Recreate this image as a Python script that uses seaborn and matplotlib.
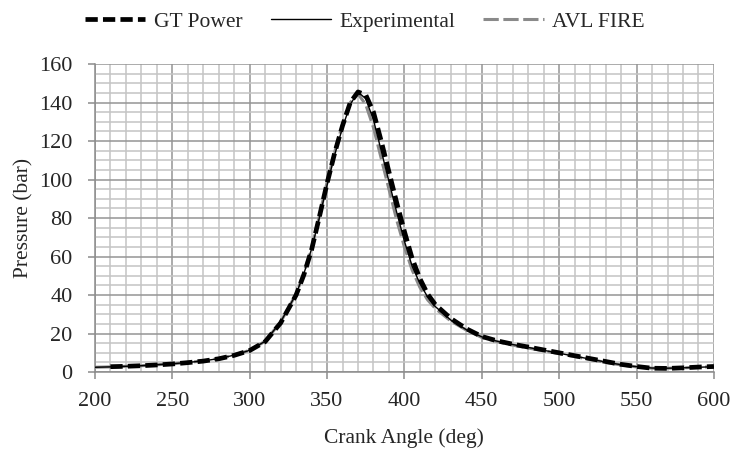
import numpy as np
import pandas as pd
import matplotlib
matplotlib.use('Agg')
import matplotlib.pyplot as plt
from matplotlib.ticker import MultipleLocator
import seaborn as sns

# crank angle (deg) and pressure (bar)
angle = [200, 210, 220, 230, 240, 250, 260, 270, 280, 290, 300, 310, 320, 330, 335,
         340, 345, 350, 355, 360, 365, 370, 375, 380, 385, 390, 395, 400, 405, 410,
         415, 420, 430, 440, 450, 460, 470, 480, 490, 500, 510, 520, 530, 540, 550,
         560, 570, 580, 590, 600]

p_exp = [2.5, 2.7, 3.0, 3.3, 3.8, 4.3, 5.0, 5.8, 7.0, 8.8, 11.3, 16.0, 26.0, 40.5, 51.0,
         64.0, 80.0, 97.0, 113.0, 127.0, 139.0, 145.5, 142.0, 131.0, 115.0, 99.0, 83.0, 68.0, 55.0, 46.0,
         39.0, 34.0, 27.0, 22.0, 18.3, 16.0, 14.3, 12.8, 11.3, 9.8, 8.2, 6.8, 5.2, 3.8, 2.8,
         2.1, 2.0, 2.2, 2.5, 2.8]

angle_gt = angle[1:]
p_gt = [2.8, 3.0, 3.3, 3.7, 4.2, 4.9, 5.7, 6.9, 8.7, 11.2, 15.8, 25.5, 40.0, 50.5,
        63.5, 80.5, 98.0, 114.0, 128.0, 140.0, 145.5, 144.0, 135.0, 120.0, 104.0, 88.0, 73.0, 59.0, 48.5,
        40.5, 35.0, 27.8, 22.5, 18.5, 16.2, 14.5, 13.0, 11.5, 10.0, 8.5, 7.0, 5.5, 4.0, 2.9,
        2.0, 1.9, 2.2, 2.6, 2.9]

p_avl = [2.5, 2.7, 3.0, 3.3, 3.8, 4.3, 5.0, 5.8, 7.0, 8.8, 11.3, 16.0, 26.0, 40.5, 51.5,
         64.5, 81.0, 98.5, 114.5, 128.5, 140.0, 144.5, 139.0, 127.0, 111.0, 95.0, 79.0, 65.0, 53.0, 44.0,
         37.5, 33.0, 26.5, 21.8, 18.0, 15.8, 14.0, 12.5, 11.0, 9.6, 8.0, 6.6, 5.0, 3.7, 2.7,
         2.0, 2.0, 2.2, 2.5, 2.8]

sns.set_style('white')
plt.rcParams['font.family'] = ['Liberation Serif', 'DejaVu Serif']

fig = plt.figure(figsize=(7.3, 4.51), dpi=100)
ax = fig.add_axes([0.130, 0.175, 0.848, 0.683])

sns.lineplot(x=angle_gt, y=p_gt, ax=ax, color='black', lw=3.4,
             linestyle=(0, (2.6, 1.1)), label='GT Power', zorder=4)
sns.lineplot(x=angle, y=p_exp, ax=ax, color='black', lw=1.0,
             label='Experimental', zorder=5)
sns.lineplot(x=angle, y=p_avl, ax=ax, color='#8a8a8a', lw=2.2,
             linestyle=(0, (5, 1.5)), label='AVL FIRE', zorder=3)

ax.set_xlim(200, 600)
ax.set_ylim(0, 160)
ax.xaxis.set_major_locator(MultipleLocator(50))
ax.xaxis.set_minor_locator(MultipleLocator(10))
ax.yaxis.set_major_locator(MultipleLocator(20))
ax.yaxis.set_minor_locator(MultipleLocator(5))
ax.grid(which='minor', color='#c4c4c4', lw=1.1)
ax.grid(which='major', color='#959595', lw=1.1)
ax.set_axisbelow(True)

for s in ['top', 'right']:
    ax.spines[s].set_visible(False)
for s in ['left', 'bottom']:
    ax.spines[s].set_color('#8c8c8c')
    ax.spines[s].set_linewidth(1.1)

ax.tick_params(which='major', direction='out', length=5, width=1.1, color='#8c8c8c',
               labelsize=16, left=True, bottom=True)
ax.tick_params(axis='x', which='major', pad=9.5)
ax.tick_params(axis='y', which='major', pad=11)
ax.tick_params(which='minor', length=0)

ax.set_xlabel('Crank Angle (deg)', fontsize=15.5, labelpad=12)
ax.set_ylabel('Pressure (bar)', fontsize=15.5, labelpad=4)

ax.get_legend().remove()
h, l = ax.get_legend_handles_labels()
fig.legend(h, l, loc='upper center', bbox_to_anchor=(0.5, 1.017), ncol=3, frameon=False,
           fontsize=15.5, handlelength=2.8, columnspacing=1.3, handletextpad=0.4)

fig.savefig('out.png', dpi=100)
